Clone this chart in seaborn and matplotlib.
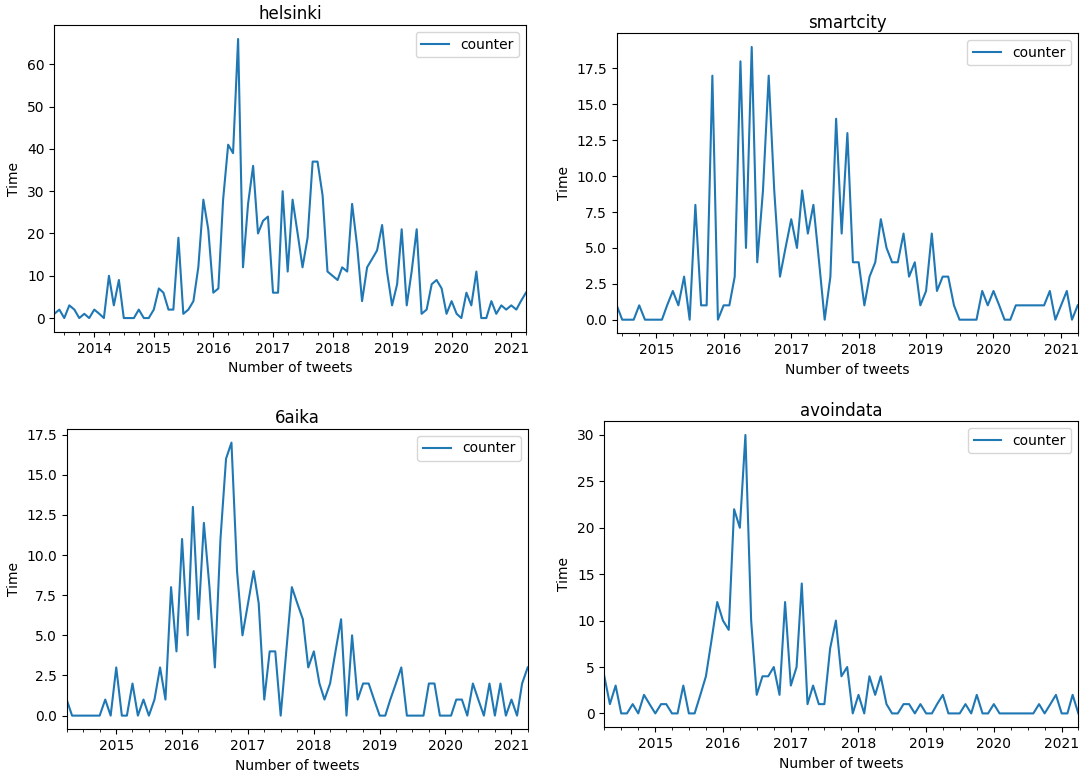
import matplotlib
matplotlib.use("Agg")
import matplotlib.pyplot as plt
import matplotlib.dates as mdates
import numpy as np
import pandas as pd
import seaborn as sns

# monthly tweet counts per hashtag
helsinki_start = "2013-05-01"
helsinki = [
    1, 2, 0, 3, 2, 0, 1, 0,
    2, 1, 0, 10, 3, 9, 0, 0, 0, 2, 0, 0,
    2, 7, 6, 2, 2, 19, 1, 2, 4, 12, 28, 21,
    6, 7, 28, 41, 39, 66, 12, 27, 36, 20, 23, 24,
    6, 6, 30, 11, 28, 20, 12, 19, 37, 37, 29, 11,
    10, 9, 12, 11, 27, 17, 4, 12, 14, 16, 22, 11,
    3, 8, 21, 3, 11, 21, 1, 2, 8, 9, 7, 1,
    4, 1, 0, 6, 3, 11, 0, 0, 4, 1, 3, 2,
    3, 2, 4, 6,
]

smartcity_start = "2014-06-01"
smartcity = [
    1, 0, 0, 0, 1, 0, 0,
    0, 0, 1, 2, 1, 3, 0, 8, 1, 1, 17, 0,
    1, 1, 3, 18, 5, 19, 4, 9, 17, 9, 3, 5,
    7, 5, 9, 6, 8, 4, 0, 3, 14, 6, 13, 4,
    4, 1, 3, 4, 7, 5, 4, 4, 6, 3, 4, 1,
    2, 6, 2, 3, 3, 1, 0, 0, 0, 0, 2, 1,
    2, 1, 0, 0, 1, 1, 1, 1, 1, 1, 2, 0,
    1, 2, 0, 1,
]

kuusiaika_start = "2014-04-01"
kuusiaika = [
    1, 0, 0, 0, 0, 0, 0, 1, 0,
    3, 0, 0, 2, 0, 1, 0, 1, 3, 1, 8, 4,
    11, 5, 13, 6, 12, 8, 3, 11, 16, 17, 9, 5,
    7, 9, 7, 1, 4, 4, 0, 4, 8, 7, 6, 3,
    4, 2, 1, 2, 4, 6, 0, 5, 1, 2, 2, 1,
    0, 0, 1, 2, 3, 0, 0, 0, 0, 2, 2, 0,
    0, 0, 1, 1, 0, 2, 1, 0, 2, 0, 2, 0,
    1, 0, 2, 3,
]

avoindata_start = "2014-04-01"
avoindata = [
    4, 1, 3, 0, 0, 1, 0, 2, 1,
    0, 1, 1, 0, 0, 3, 0, 0, 2, 4, 8, 12,
    10, 9, 22, 20, 30, 10, 2, 4, 4, 5, 2, 12,
    3, 5, 14, 1, 3, 1, 1, 7, 10, 4, 5, 0,
    2, 0, 4, 2, 4, 1, 0, 0, 1, 1, 0, 1,
    0, 0, 1, 2, 0, 0, 0, 1, 0, 2, 0, 0,
    1, 0, 0, 0, 0, 0, 0, 0, 1, 0, 1, 2,
    0, 0, 2, 0,
]

titles = ["helsinki", "smartcity", "6aika", "avoindata"]
starts = [helsinki_start, smartcity_start, kuusiaika_start, avoindata_start]
series = [helsinki, smartcity, kuusiaika, avoindata]

# axes boxes in figure fractions (the four panels are not perfectly aligned)
boxes = [
    [0.0501, 0.5716, 0.4351, 0.3961],
    [0.5689, 0.5699, 0.4253, 0.3871],
    [0.0615, 0.0590, 0.4253, 0.3875],
    [0.5575, 0.0615, 0.4373, 0.3952],
]

plt.rcParams["font.size"] = 10
fig = plt.figure(figsize=(10.84, 7.75), dpi=100)

for title, start, values, box in zip(titles, starts, series, boxes):
    df = pd.DataFrame({
        "date": pd.date_range(start, periods=len(values), freq="MS"),
        "counter": values,
    })
    ax = fig.add_axes(box)
    sns.lineplot(data=df, x="date", y="counter", ax=ax,
                 color="#1f77b4", linewidth=1.5, label="counter")
    ax.set_xlim(df["date"].iloc[0], df["date"].iloc[-1])
    ax.xaxis.set_major_locator(mdates.YearLocator())
    ax.xaxis.set_minor_locator(mdates.MonthLocator(bymonth=[4, 7, 10]))
    ax.xaxis.set_major_formatter(mdates.DateFormatter("%Y"))
    ax.set_title(title, fontsize=12, pad=4)
    ax.set_xlabel("Number of tweets")
    ax.set_ylabel("Time")
    ax.legend(loc="upper right")

fig.savefig("out.png", dpi=100)
